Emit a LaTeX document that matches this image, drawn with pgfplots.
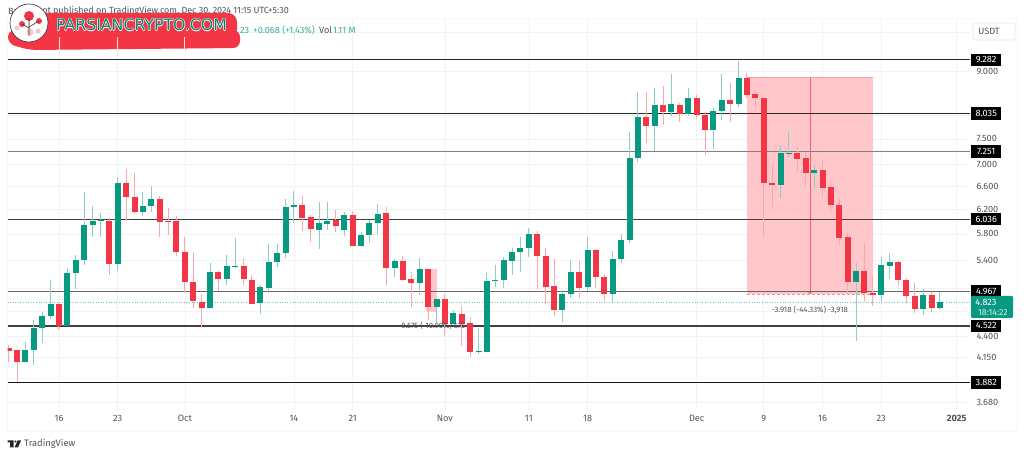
\documentclass[border=0pt]{standalone}
\usepackage{fontspec}
\setmainfont{Fira Sans}
\newfontfamily\wmfont{DejaVu Sans}
\usepackage{pgfplots}
\pgfplotsset{compat=1.18}
\usetikzlibrary{arrows.meta}
\definecolor{tvgreen}{HTML}{089981}
\definecolor{tvred}{HTML}{F23645}
\definecolor{wickg}{HTML}{8CCFC4}
\definecolor{wickr}{HTML}{F9A9AF}
\definecolor{pinkbox}{HTML}{FFC7C9}
\definecolor{gridc}{HTML}{F1F2F4}
\definecolor{txt}{HTML}{50535E}
% \Up / \Dn : day, open, high, low, close
\newcommand{\Up}[5]{\addplot[wickg,line width=1bp] coordinates {(#1,#3)(#1,#4)};\addplot[tvgreen,line width=6bp,line cap=butt] coordinates {(#1,#2)(#1,#5)};}
\newcommand{\Dn}[5]{\addplot[wickr,line width=1bp] coordinates {(#1,#3)(#1,#4)};\addplot[tvred,line width=6bp,line cap=butt] coordinates {(#1,#2)(#1,#5)};}
\newcommand{\lvl}[3]{\addplot[#2,line width=#3] coordinates {(-6.138,#1)(108.58,#1)};}
\newcommand{\lvltag}[2]{\node[fill=black,text=white,font=\fontsize{9.2}{10}\selectfont,minimum width=30bp,minimum height=12.5bp,inner sep=0pt,anchor=west] at (axis cs:108.7,#1) {#2};}
\begin{document}
\begin{tikzpicture}
\path[use as bounding box] (0,0) rectangle (1024bp,456bp);
\fill[white] (0,0) rectangle (1024bp,456bp);
\begin{scope}[x=1bp,y=-1bp,yshift=456bp]
\draw[gridc!70!gray!30,line width=.6bp,dash pattern=on 1bp off 1bp] (7,18) rectangle (1017,431);
\end{scope}
\begin{axis}[
  at={(7.5bp,46bp)},anchor=south west,scale only axis,
  width=962.5bp,height=392bp,
  ymode=log,
  xmin=-6.138,xmax=108.58,ymin=3.603,ymax=10.398,
  clip mode=individual,
  axis line style={draw=none},
  major tick length=0pt,
  xtick={0,7,15,28,35,46,56,63,76,84,91,98,107},
  xticklabels={16,23,Oct,14,21,Nov,11,18,Dec,9,16,23,\textbf{2025}},
  ytick={3.68,4.15,4.4,4.7,5,5.4,5.8,6.2,6.6,7,7.5,8,9,10},
  yticklabels={3.680,4.150,4.400,,,5.400,5.800,6.200,6.600,7.000,7.500,,9.000,},
  yticklabel pos=right,
  tick label style={font=\fontsize{9.2}{10}\selectfont,text=txt},
  yticklabel style={anchor=west,xshift=3bp},
  xticklabel style={yshift=-2bp},
  grid=major,
  grid style={gridc,line width=.7bp},
  axis on top=false,
]
% measure boxes
\addplot[fill=pinkbox,draw=none] coordinates {(82,8.848)(97,8.848)(97,4.93)(82,4.93)} -- cycle;
\addplot[fill=pinkbox,draw=none] coordinates {(43.7,5.27)(45,5.27)(45,4.695)(43.7,4.695)} -- cycle;
\addplot[tvred!50,line width=.7bp] coordinates {(82,8.848)(97,8.848)};
\addplot[tvred!55,line width=.6bp,densely dashed] coordinates {(82,4.93)(97,4.93)};
\addplot[tvred!80,line width=.7bp,-{To[length=3bp,width=5bp]}] coordinates {(89.5,8.848)(89.5,4.93)};
% levels
\addplot[tvgreen!60,line width=.6bp,dotted] coordinates {(-6.138,4.823)(108.58,4.823)};
\lvl{9.282}{black!85}{1bp}
\lvl{8.035}{black!85}{1bp}
\lvl{7.251}{black!50}{1bp}
\lvl{6.036}{black!75}{1bp}
\lvl{4.967}{black!60}{1bp}
\lvl{4.522}{black!75}{1.3bp}
\lvl{3.882}{black!90}{1.1bp}
% candles
\Dn{-6}{4.261}{4.296}{4.102}{4.226}
\Dn{-5}{4.237}{4.237}{3.886}{4.102}
\Up{-4}{4.102}{4.331}{4.102}{4.237}
\Up{-3}{4.237}{4.595}{4.069}{4.497}
\Up{-2}{4.497}{4.696}{4.319}{4.645}
\Up{-1}{4.645}{5.120}{4.608}{4.799}
\Dn{0}{4.799}{4.812}{4.473}{4.522}
\Up{1}{4.522}{5.290}{4.522}{5.219}
\Up{2}{5.219}{5.479}{4.998}{5.405}
\Up{3}{5.405}{6.496}{5.333}{5.942}
\Up{4}{5.942}{6.255}{5.752}{6.006}
\Up{5}{6.006}{6.138}{5.752}{6.022}
\Dn{6}{6.006}{6.072}{5.191}{5.347}
\Up{7}{5.347}{6.765}{5.247}{6.656}
\Dn{8}{6.656}{6.913}{6.022}{6.409}
\Dn{9}{6.409}{6.839}{6.121}{6.154}
\Up{10}{6.154}{6.496}{6.088}{6.255}
\Up{11}{6.255}{6.603}{6.154}{6.374}
\Dn{12}{6.374}{6.427}{5.752}{5.990}
\Dn{13}{6.006}{6.221}{5.783}{5.990}
\Dn{14}{6.006}{6.088}{5.464}{5.523}
\Dn{15}{5.523}{5.752}{4.944}{5.093}
\Dn{16}{5.093}{5.523}{4.747}{4.838}
\Dn{17}{4.825}{4.931}{4.509}{4.747}
\Up{18}{4.747}{5.362}{4.747}{5.233}
\Dn{19}{5.233}{5.247}{4.971}{5.134}
\Up{20}{5.134}{5.479}{5.052}{5.319}
\Up{21}{5.304}{5.736}{5.290}{5.319}
\Dn{22}{5.319}{5.435}{5.038}{5.134}
\Dn{23}{5.120}{5.191}{4.799}{4.799}
\Up{24}{4.812}{5.052}{4.670}{5.025}
\Up{25}{5.011}{5.644}{4.944}{5.376}
\Up{26}{5.376}{5.644}{5.304}{5.509}
\Up{27}{5.509}{6.374}{5.435}{6.238}
\Up{28}{6.238}{6.514}{5.974}{6.272}
\Dn{29}{6.272}{6.427}{5.845}{6.055}
\Dn{30}{6.072}{6.105}{5.675}{5.877}
\Up{31}{5.861}{6.323}{5.568}{5.974}
\Up{32}{5.958}{6.323}{5.861}{6.006}
\Dn{33}{6.022}{6.187}{5.830}{5.925}
\Up{34}{5.861}{6.154}{5.767}{6.105}
\Dn{35}{6.105}{6.171}{5.614}{5.614}
\Up{36}{5.614}{5.830}{5.599}{5.783}
\Up{37}{5.783}{6.022}{5.660}{5.974}
\Up{38}{5.974}{6.289}{5.799}{6.121}
\Dn{39}{6.138}{6.238}{5.052}{5.290}
\Up{40}{5.290}{5.420}{5.162}{5.391}
\Dn{41}{5.391}{5.464}{5.106}{5.120}
\Dn{42}{5.134}{5.233}{4.760}{5.079}
\Up{43}{5.079}{5.435}{4.918}{5.275}
\Dn{44}{5.275}{5.275}{4.595}{4.760}
\Up{45}{4.760}{4.864}{4.558}{4.864}
\Dn{46}{4.864}{4.931}{4.402}{4.546}
\Up{47}{4.546}{4.721}{4.546}{4.683}
\Dn{48}{4.670}{4.773}{4.284}{4.546}
\Dn{49}{4.558}{4.633}{4.158}{4.215}
\Up{50}{4.215}{4.497}{4.192}{4.226}
\Up{51}{4.215}{5.219}{4.215}{5.106}
\Up{52}{5.106}{5.333}{5.025}{5.120}
\Up{53}{5.120}{5.449}{5.011}{5.405}
\Up{54}{5.391}{5.583}{5.191}{5.523}
\Up{55}{5.523}{5.752}{5.233}{5.583}
\Up{56}{5.583}{5.893}{5.449}{5.799}
\Dn{57}{5.799}{5.845}{4.998}{5.464}
\Dn{58}{5.464}{5.583}{4.799}{5.025}
\Dn{59}{5.038}{5.420}{4.645}{4.721}
\Up{60}{4.721}{4.984}{4.571}{4.931}
\Up{61}{4.931}{5.405}{4.878}{5.233}
\Dn{62}{5.233}{5.391}{4.878}{5.011}
\Up{63}{5.025}{5.752}{4.971}{5.553}
\Dn{64}{5.553}{5.568}{5.011}{5.162}
\Dn{65}{5.162}{5.205}{4.838}{4.931}
\Up{66}{4.931}{5.538}{4.812}{5.420}
\Up{67}{5.420}{5.799}{5.362}{5.705}
\Up{68}{5.705}{7.640}{5.660}{7.122}
\Up{69}{7.122}{8.513}{7.045}{7.957}
\Dn{70}{7.957}{8.513}{7.416}{7.765}
\Up{71}{7.765}{8.606}{7.258}{8.219}
\Dn{72}{8.219}{8.653}{7.787}{8.065}
\Up{73}{8.065}{8.938}{7.978}{8.241}
\Dn{74}{8.219}{8.263}{7.850}{8.022}
\Up{75}{8.022}{8.606}{7.978}{8.376}
\Dn{76}{8.376}{8.445}{7.914}{8.000}
\Dn{77}{8.000}{8.065}{7.180}{7.681}
\Up{78}{7.681}{8.175}{7.297}{8.086}
\Up{79}{8.086}{8.938}{7.892}{8.330}
\Dn{80}{8.330}{8.723}{7.850}{8.241}
\Up{81}{8.241}{9.257}{8.175}{8.841}
\Dn{82}{8.841}{8.962}{8.376}{8.445}
\Dn{83}{8.467}{8.536}{8.130}{8.376}
\Dn{84}{8.376}{8.376}{5.752}{6.656}
\Dn{85}{6.656}{7.007}{6.238}{6.621}
\Up{86}{6.621}{7.377}{6.392}{7.219}
\Up{87}{7.199}{7.660}{7.141}{7.219}
\Dn{88}{7.219}{7.357}{6.857}{7.102}
\Dn{89}{7.122}{7.238}{6.603}{6.839}
\Up{90}{6.839}{7.007}{6.549}{6.894}
\Dn{91}{6.894}{7.083}{6.409}{6.567}
\Dn{92}{6.585}{6.692}{6.154}{6.272}
\Dn{93}{6.272}{6.392}{5.614}{5.736}
\Dn{94}{5.752}{5.830}{4.918}{5.093}
\Up{95}{5.093}{5.362}{4.342}{5.247}
\Dn{96}{5.247}{5.660}{4.825}{4.944}
\Dn{97}{4.944}{5.191}{4.773}{4.918}
\Up{98}{4.918}{5.449}{4.799}{5.333}
\Up{99}{5.319}{5.509}{5.134}{5.376}
\Dn{100}{5.376}{5.391}{5.038}{5.120}
\Dn{101}{5.120}{5.148}{4.812}{4.904}
\Dn{102}{4.904}{5.079}{4.683}{4.734}
\Up{103}{4.734}{4.998}{4.658}{4.918}
\Dn{104}{4.918}{4.957}{4.696}{4.747}
\Up{105}{4.747}{4.957}{4.721}{4.825}
% measure labels
\node[font=\fontsize{7.8}{8}\selectfont,text=txt] at (axis cs:89.5,4.72) {-3.918 (-44.33\%) -3,918};
\node[font=\fontsize{7.8}{8}\selectfont,text=txt] at (axis cs:44.6,4.522) {0.575 (-10.90\%) 575};
% price tags
\lvltag{9.282}{9.282}
\lvltag{8.035}{8.035}
\lvltag{7.251}{7.251}
\lvltag{6.036}{6.036}
\lvltag{4.967}{4.967}
\lvltag{4.522}{4.522}
\lvltag{3.882}{3.882}
\end{axis}
\begin{scope}[x=1bp,y=-1bp,yshift=456bp]
% current price tag
\fill[tvgreen,rounded corners=1bp] (971,296) rectangle (1013,318);
\node[text=white,font=\fontsize{9.2}{10}\selectfont] at (986,302) {4.823};
\node[text=white!85!tvgreen,font=\fontsize{8.8}{10}\selectfont] at (993,312.3) {18:14:22};
% USDT box
\draw[black!10,fill=white,rounded corners=2bp,line width=.6bp] (973,23) rectangle (1015,40);
\node[text=txt,font=\fontsize{9.2}{10}\selectfont] at (989,31) {USDT};
% header
\node[anchor=east,text=txt,font=\fontsize{9}{10}\selectfont,inner sep=0pt] at (289,11) {ot published on TradingView.com, Dec 30, 2024 11:15 UTC+5:30};
\node[anchor=west,text=txt,font=\fontsize{9}{10}\selectfont,inner sep=0pt] at (8,11) {Ba};
% watermark
\fill[tvred,rounded corners=9bp] (20,13) rectangle (237,38);
\fill[tvred,rounded corners=7bp] (8,30) -- (240,30) -- (240,48) -- (30,50) -- (8,44) -- cycle;
\foreach \xx in {59,117,184} \draw[white!85!tvred,line width=.7bp] (\xx,37) -- (\xx,50);
\draw[black!80,fill=white,line width=.6bp] (29,23) circle (19);
\fill[tvred] (29,16) circle (5);
\fill[tvred] (22,24) circle (3);
\fill[tvred] (39,21) circle (3);
\fill[tvred!30] (17,28) circle (2.5);
\fill[tvred!30] (30,32) circle (3.5);
\fill[tvred!30] (38,31) circle (2.5);
\draw[black!80,line width=.6bp] (29,36) -- (29,18) (29,28) -- (22,24) (29,27) -- (39,21);
\foreach \dx/\dy in {-.6/0,.6/0,0/-.6,0/.6}
  \node[text=white,font=\wmfont\fontsize{15.8}{18}\selectfont,inner sep=0pt] at (141.5+\dx,25+\dy) {PARSIANCRYPTO.COM};
\node[text=tvgreen!85!black,font=\wmfont\fontsize{15.8}{18}\selectfont,inner sep=0pt] at (141.5,25) {PARSIANCRYPTO.COM};
% OHLC remainder
\node[anchor=west,text=tvgreen!80,font=\fontsize{9.2}{10}\selectfont,inner sep=0pt] at (240,30) {23};
\node[anchor=west,text=tvgreen!80,font=\fontsize{9.2}{10}\selectfont,inner sep=0pt] at (253,30) {+0.068 (+1.43\%)};
\node[anchor=west,text=txt,font=\fontsize{9.2}{10}\selectfont,inner sep=0pt] at (319,30) {Vol};
\node[anchor=west,text=tvgreen!80,font=\fontsize{9.2}{10}\selectfont,inner sep=0pt] at (333,30) {1.11 M};
% TradingView logo
\fill[black!85] (7.5,440.5) rectangle (13.5,442.5) (10,442.5) rectangle (13.5,447.5);
\fill[black!85] (15.5,441.5) circle (1.1);
\fill[black!85] (17.7,440.5) -- (21,440.5) -- (18,447.5) -- (14.5,447.5) -- cycle;
\node[anchor=west,text=txt,font=\fontsize{9.4}{10}\selectfont,inner sep=0pt] at (24,444) {TradingView};
\end{scope}
\end{tikzpicture}
\end{document}
